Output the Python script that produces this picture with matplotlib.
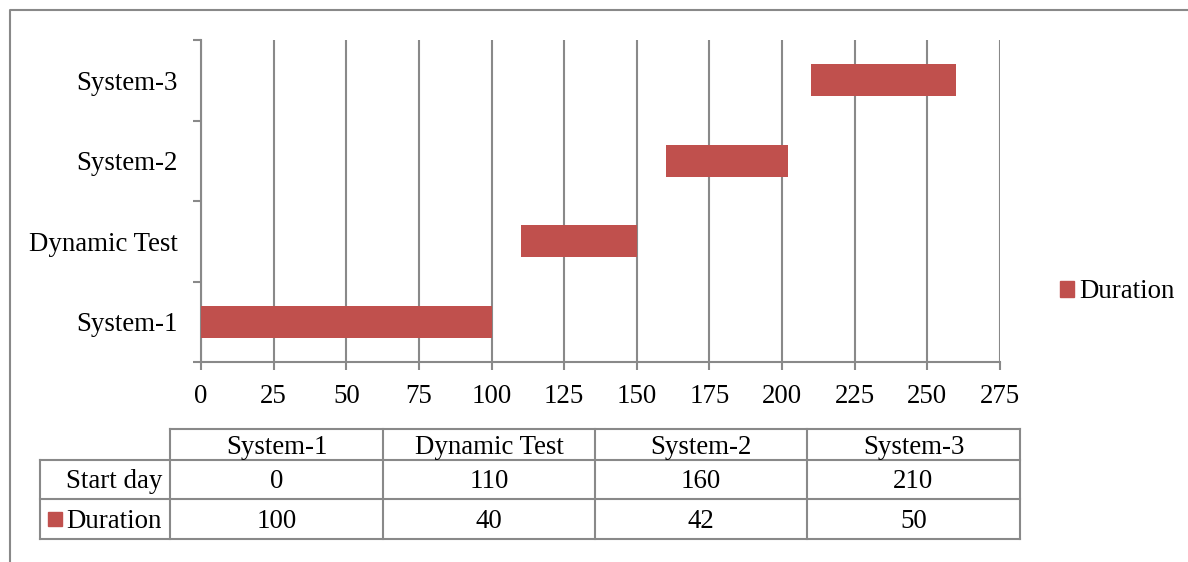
import matplotlib
matplotlib.use('Agg')
import matplotlib.pyplot as plt
from matplotlib.lines import Line2D
from matplotlib.patches import Rectangle
from matplotlib.ticker import FixedLocator, NullFormatter

# chart data
tasks = ['System-1', 'Dynamic Test', 'System-2', 'System-3']
start_days = [0, 110, 160, 210]
durations = [100, 40, 42, 50]
x_ticks = [0, 25, 50, 75, 100, 125, 150, 175, 200, 225, 250, 275]

BAR = '#C0504D'
GRID = '#898989'
FS = 19.4
W, H = 1188, 562

plt.rcParams['font.family'] = ['Liberation Serif', 'DejaVu Serif']


def fx(x):
    return x / W


def fy(y):
    return 1 - y / H


fig = plt.figure(figsize=(W / 100, H / 100), dpi=100)
ax = fig.add_axes([fx(201), fy(362), (1000 - 201) / W, (362 - 40) / H])

ypos = list(range(len(tasks)))
ax.barh(ypos, durations, left=start_days, height=0.4, color=BAR, zorder=3)

ax.set_xlim(0, 275)
ax.set_ylim(-0.5, len(tasks) - 0.5)
ax.set_xticks(x_ticks)
ax.set_xticklabels([str(v) for v in x_ticks], fontsize=FS)
ax.tick_params(axis='x', length=6, width=1.5, color=GRID, pad=10)
ax.grid(axis='x', color=GRID, linewidth=1.5, zorder=0)

# category ticks sit on the band edges, labels in the middle
ax.yaxis.set_major_locator(FixedLocator([i - 0.5 for i in range(len(tasks) + 1)]))
ax.yaxis.set_major_formatter(NullFormatter())
ax.set_yticks(ypos, minor=True)
ax.set_yticklabels(tasks, minor=True, fontsize=FS)
ax.tick_params(axis='y', which='major', length=6, width=1.5, color=GRID)
ax.tick_params(axis='y', which='minor', length=0, pad=17)

for side in ['top', 'right']:
    ax.spines[side].set_visible(False)
for side in ['left', 'bottom']:
    ax.spines[side].set_color(GRID)
    ax.spines[side].set_linewidth(1.5)

fig.legend([Rectangle((0, 0), 1, 1, color=BAR)], ['Duration'], loc='center left',
           bbox_to_anchor=(fx(1060), fy(292)), frameon=False, fontsize=FS,
           handlelength=0.52, handleheight=0.52, handletextpad=0.2,
           borderpad=0, borderaxespad=0)

# outer frame
fig.add_artist(Line2D([fx(10), fx(10), 1.0], [0.0, fy(10), fy(10)], color=GRID, lw=1.5))

# data table below the chart
col_edges = [170, 383, 595, 807, 1020]
row_edges = [429, 460, 499, 539]
lab_left = 40
base_off = 9  # px from cell centre down to text baseline


def hline(x0, x1, y):
    fig.add_artist(Line2D([fx(x0), fx(x1)], [fy(y), fy(y)], color=GRID, lw=1.5))


def vline(x, y0, y1):
    fig.add_artist(Line2D([fx(x), fx(x)], [fy(y0), fy(y1)], color=GRID, lw=1.5))


hline(col_edges[0], col_edges[-1], row_edges[0])
for y in row_edges[1:]:
    hline(lab_left, col_edges[-1], y)
vline(lab_left, row_edges[1], row_edges[-1])
for x in col_edges:
    vline(x, row_edges[0], row_edges[-1])

rows = [tasks, [str(v) for v in start_days], [str(v) for v in durations]]
for r, vals in enumerate(rows):
    yc = (row_edges[r] + row_edges[r + 1]) / 2
    for c, v in enumerate(vals):
        xc = (col_edges[c] + col_edges[c + 1]) / 2
        fig.text(fx(xc), fy(yc + base_off), v, ha='center', va='baseline', fontsize=FS)

for r, lab in [(1, 'Start day'), (2, 'Duration')]:
    yc = (row_edges[r] + row_edges[r + 1]) / 2
    fig.text(fx(162), fy(yc + base_off), lab, ha='right', va='baseline', fontsize=FS)

fig.add_artist(Rectangle((fx(48), fy(526)), 14 / W, 14 / H, color=BAR))

fig.savefig('out.png', dpi=100)
